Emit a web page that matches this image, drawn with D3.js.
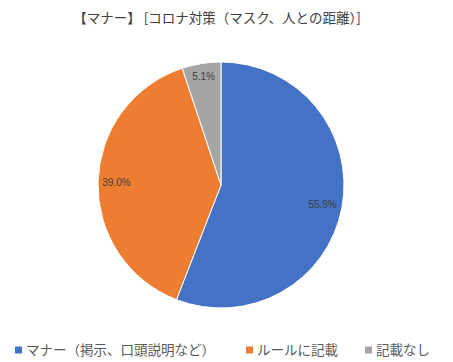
<!DOCTYPE html>
<html><head><meta charset="utf-8">
<script src="https://cdn.jsdelivr.net/npm/d3@7"></script>
<style>body{margin:0;background:#fff;}svg{display:block;}</style>
</head><body>
<script>
const title = "【マナー】 [コロナ対策（マスク、人との距離）]";
const categories = ["マナー（掲示、口頭説明など）", "ルールに記載", "記載なし"];
const values = [55.9, 39.0, 5.1];
const colors = ["#4472C4", "#ED7D31", "#A5A5A5"];

const W = 453, H = 362;
const svg = d3.select("body").append("svg").attr("width", W).attr("height", H);
const font = "'Noto Sans CJK JP', 'Noto Sans', sans-serif";

svg.append("text").attr("x", 217).attr("y", 18).attr("dy", "0.35em").attr("text-anchor", "middle")
  .attr("font-family", font).attr("font-size", 13.5).attr("fill", "#404040").text(title);

const cx = 221, cy = 185, r = 123;
const pie = d3.pie().sort(null).value(d => d);
const arc = d3.arc().innerRadius(0).outerRadius(r);
const g = svg.append("g").attr("transform", `translate(${cx},${cy})`);
const arcs = pie(values);
g.selectAll("path").data(arcs).enter().append("path")
  .attr("d", arc).attr("fill", (d, i) => colors[i])
  .attr("stroke", "#fff").attr("stroke-width", 1);

const labelRadius = [0.84, 0.85, 0.89];
g.selectAll("text.lab").data(arcs).enter().append("text").attr("class", "lab")
  .attr("transform", (d, i) => {
    const a = d3.arc().innerRadius(r * labelRadius[i]).outerRadius(r * labelRadius[i]);
    return `translate(${a.centroid(d)})`;
  })
  .attr("text-anchor", "middle").attr("dy", "0.35em")
  .attr("font-family", "'Liberation Sans', Arial, sans-serif").attr("font-size", 10)
  .attr("fill", "#404040").text(d => d.data.toFixed(1) + "%");

// legend
const legend = svg.append("g").attr("transform", "translate(0,350)");
const legX = [15, 246, 365];
categories.forEach((c, i) => {
  legend.append("rect").attr("x", legX[i]).attr("y", -3.5).attr("width", 7).attr("height", 7).attr("fill", colors[i]);
  legend.append("text").attr("x", legX[i] + 11).attr("y", 0).attr("dy", "0.35em")
    .attr("font-family", font).attr("font-size", 13.5).attr("fill", "#595959").text(c);
});
</script>
</body></html>
